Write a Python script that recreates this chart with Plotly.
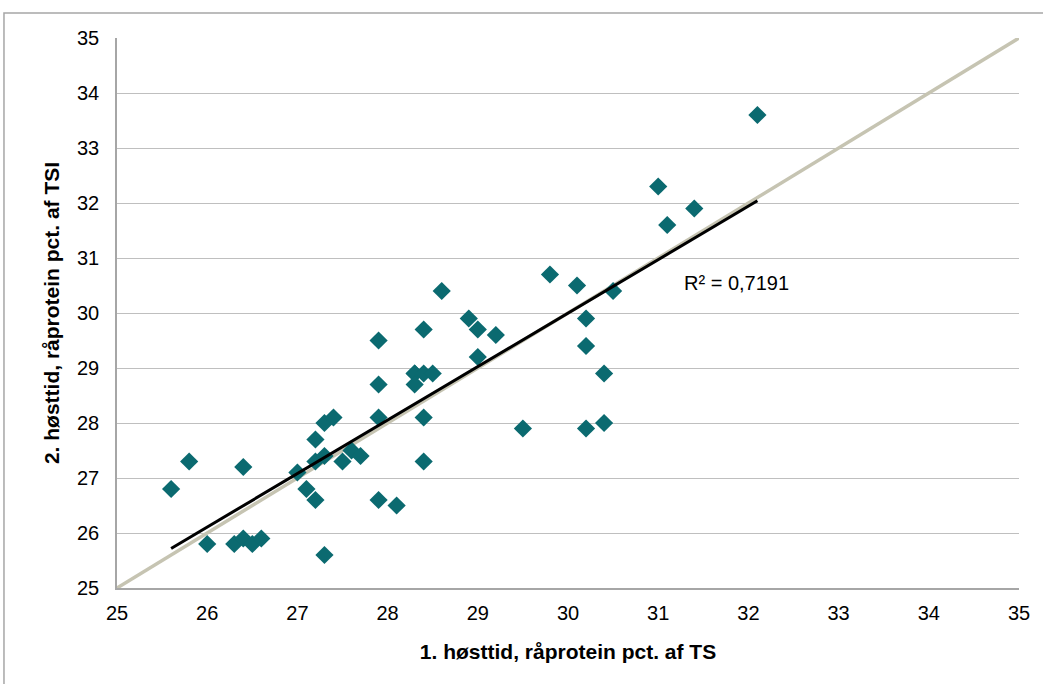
import numpy as np
import plotly.graph_objects as go

# Data
harvest1 = [25.6, 25.8, 26.0, 26.3, 26.4, 26.5, 26.6, 26.4, 27.0, 27.1,
            27.2, 27.2, 27.2, 27.3, 27.3, 27.4, 27.3, 27.5, 27.6, 27.7,
            27.9, 27.9, 27.9, 27.9, 28.1, 28.3, 28.3, 28.3, 28.4, 28.4,
            28.4, 28.4, 28.5, 28.6, 28.9, 29.0, 29.0, 29.2, 29.5, 29.8,
            30.1, 30.2, 30.2, 30.2, 30.4, 30.4, 30.5, 31.0, 31.1, 31.4, 32.1]
harvest2 = [26.8, 27.3, 25.8, 25.8, 25.9, 25.8, 25.9, 27.2, 27.1, 26.8,
            26.6, 27.3, 27.7, 27.4, 28.0, 28.1, 25.6, 27.3, 27.5, 27.4,
            28.1, 28.7, 29.5, 26.6, 26.5, 28.9, 28.9, 28.7, 29.7, 28.1,
            27.3, 28.9, 28.9, 30.4, 29.9, 29.7, 29.2, 29.6, 27.9, 30.7,
            30.5, 29.9, 29.4, 27.9, 28.9, 28.0, 30.4, 32.3, 31.6, 31.9, 33.6]
identity = [25, 35]
tick_vals = [25, 26, 27, 28, 29, 30, 31, 32, 33, 34, 35]
r2_label = "R² = 0,7191"
x_title = "1. høsttid, råprotein pct. af TS"
y_title = "2. høsttid, råprotein pct. af TSI"

xs = np.array(harvest1)
ys = np.array(harvest2)
slope, intercept = np.polyfit(xs, ys, 1)
trend_x = np.array([xs.min(), xs.max()])
trend_y = slope * trend_x + intercept

fig = go.Figure()
fig.add_trace(go.Scatter(x=identity, y=identity, mode="lines",
                         line=dict(color="#c6c4b2", width=3.5),
                         hoverinfo="skip", showlegend=False))
fig.add_trace(go.Scatter(x=xs, y=ys, mode="markers",
                         marker=dict(symbol="diamond", size=14, color="#0b6a70",
                                     line=dict(width=0)),
                         showlegend=False))
fig.add_trace(go.Scatter(x=trend_x, y=trend_y, mode="lines",
                         line=dict(color="#000000", width=3),
                         hoverinfo="skip", showlegend=False))

font_family = "Liberation Sans, Arial, sans-serif"

fig.add_annotation(x=31.26, y=30.55, text=r2_label, showarrow=False,
                   xanchor="left", yanchor="middle",
                   font=dict(family=font_family, size=20, color="#000000"))

fig.update_layout(
    width=1043, height=684,
    margin=dict(l=117, r=24, t=38, b=96),
    paper_bgcolor="white", plot_bgcolor="white",
    font=dict(family=font_family, size=20, color="#000000"),
    xaxis=dict(range=[25, 35], tickvals=tick_vals, showgrid=False,
               showline=True, linecolor="#a6a6a6", linewidth=1.5,
               ticks="outside", ticklen=6, tickcolor="rgba(0,0,0,0)",
               zeroline=False,
               tickfont=dict(size=20),
               title=dict(text="<b>" + x_title + "</b>", standoff=22,
                          font=dict(family=font_family, size=21))),
    yaxis=dict(range=[25, 35], tickvals=tick_vals, showgrid=True,
               gridcolor="#bfbfbf", gridwidth=1.2,
               showline=True, linecolor="#a6a6a6", linewidth=1.5,
               ticks="outside", ticklen=12, tickcolor="rgba(0,0,0,0)",
               zeroline=False,
               tickfont=dict(size=20),
               title=dict(text="<b>" + y_title + "</b>", standoff=12,
                          font=dict(family=font_family, size=21))),
)

fig.add_shape(type="rect", xref="paper", yref="paper",
              x0=-0.1253, x1=1.03, y0=-0.19, y1=1.0455,
              line=dict(color="#a6a6a6", width=1.5), layer="below")

fig.write_html("out.html", config={"displayModeBar": False},
               post_script="document.body.style.margin='0';")
